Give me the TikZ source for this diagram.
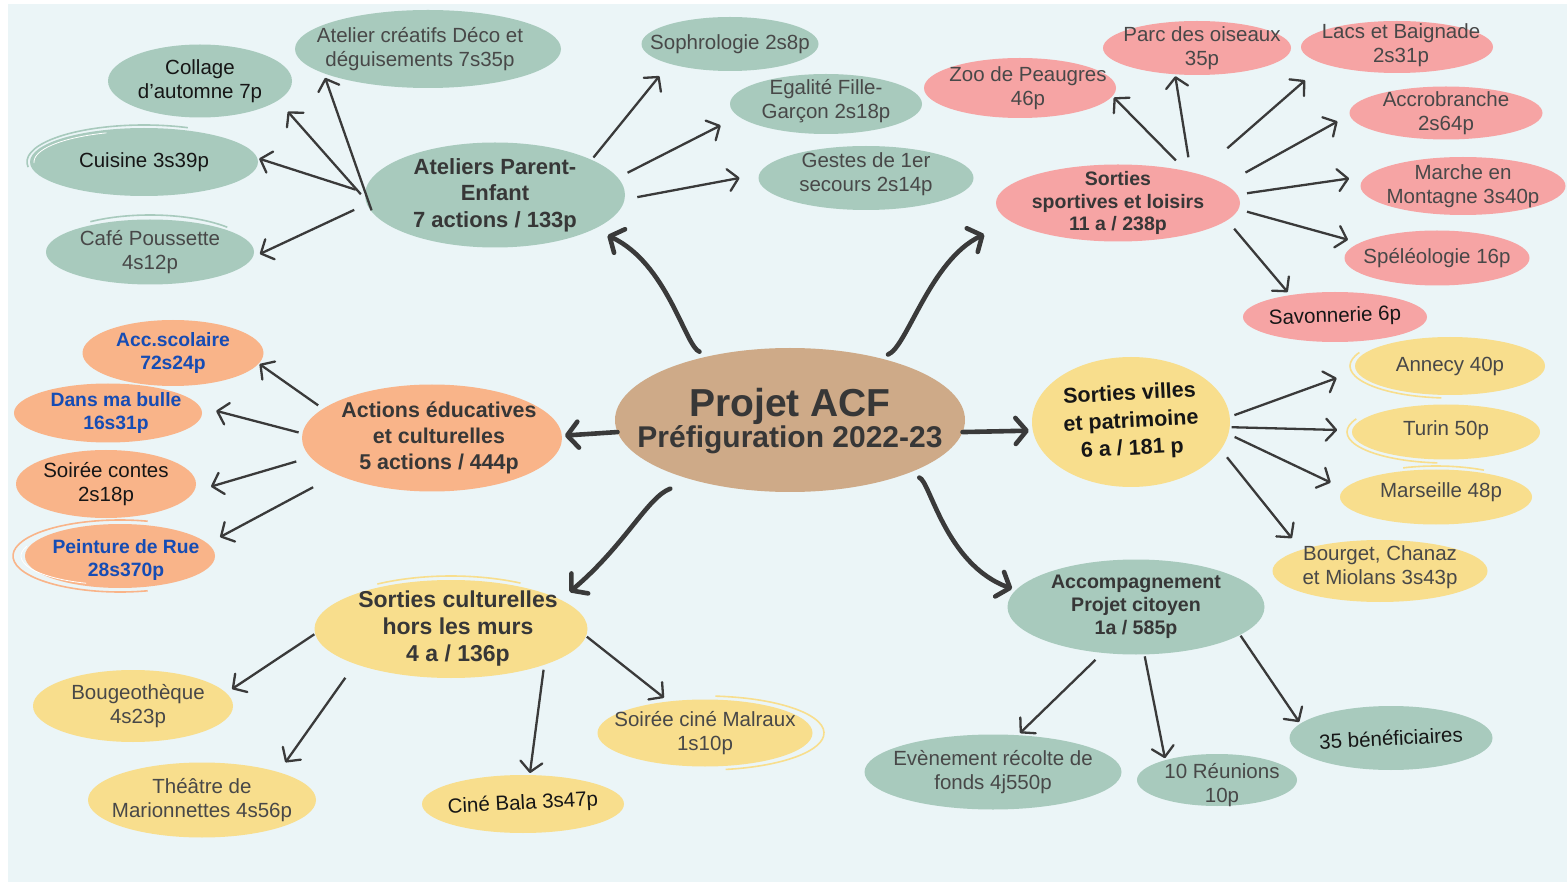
\documentclass[tikz,border=0pt]{standalone}
\usepackage{fontspec}
\setmainfont{Liberation Sans}
\usetikzlibrary{shapes.geometric,arrows.meta,calc}

\definecolor{cfond}{RGB}{235,245,247}
\definecolor{cvert}{RGB}{168,202,189}
\definecolor{crose}{RGB}{246,164,164}
\definecolor{corange}{RGB}{249,180,137}
\definecolor{cjaune}{RGB}{248,222,141}
\definecolor{cbrun}{RGB}{206,170,136}
\definecolor{ctexte}{RGB}{72,72,72}
\definecolor{ctitre}{RGB}{55,55,55}
\definecolor{cnoir}{RGB}{22,22,22}
\definecolor{cbleu}{RGB}{22,76,180}
\definecolor{cfleche}{RGB}{58,58,58}

\begin{document}
\begin{tikzpicture}[x=1pt, y=-1pt,
  every node/.style={inner sep=0pt, outer sep=0pt},
  bulle/.style={ellipse},
  txt/.style={align=center, text=ctexte, font=\fontsize{20.5}{23.5}\selectfont},
  noir/.style={txt, text=cnoir},
  bleu/.style={align=center, text=cbleu, font=\bfseries\fontsize{19.3}{23}\selectfont},
  titre/.style={align=center, text=ctitre},
  fl/.style={draw=cfleche, line width=2.3pt, -{Straight Barb[length=10pt,width=22pt,round]}},
  grosfl/.style={draw=cfleche, line width=4.6pt, line cap=round, -{Straight Barb[length=11pt,width=26pt,round]}}]

\useasboundingbox (0,0) rectangle (1567,882);
\fill[white] (0,0) rectangle (1567,882);
\fill[cfond] (8,4) rectangle (1567,882);

% centre
\node[bulle, fill=cbrun, minimum width=350pt, minimum height=144pt, label={[titre, yshift=-1pt, font=\bfseries]center:{\fontsize{39}{40}\selectfont Projet ACF\\\fontsize{30}{39}\selectfont Préfiguration 2022-23}}] (acf) at (790,420) {};

% ateliers parent-enfant
\node[bulle, fill=cvert, minimum width=260pt, minimum height=105pt, label={[titre, font=\bfseries\fontsize{22}{26.5}\selectfont]center:{Ateliers Parent-\\Enfant\\7 actions / 133p}}] (apf) at (495,195) {};
\node[bulle, fill=cvert, minimum width=266pt, minimum height=78pt, label={[txt, xshift=-8pt]center:{Atelier créatifs Déco et\\déguisements 7s35p}}] (creatifs) at (428,49) {};
\node[bulle, fill=cvert, minimum width=184pt, minimum height=73pt, label={[noir]center:{Collage\\d’automne 7p}}] (collage) at (200,81) {};
\node[bulle, fill=cvert, minimum width=228pt, minimum height=68pt, label={[noir]center:{Cuisine 3s39p}}] (cuisine) at (144,162) {};
\node[bulle, fill=cvert, minimum width=208pt, minimum height=65pt, label={[txt]center:{Café Poussette\\4s12p}}] (cafe) at (150,252) {};
\node[bulle, fill=cvert, minimum width=177pt, minimum height=54pt, label={[txt]center:{Sophrologie 2s8p}}] (sophro) at (730,44) {};
\node[bulle, fill=cvert, minimum width=192pt, minimum height=60pt, label={[txt, yshift=3pt]center:{Egalité Fille-\\Garçon 2s18p}}] (egalite) at (826,104) {};
\node[bulle, fill=cvert, minimum width=215pt, minimum height=64pt, label={[txt, yshift=4pt]center:{Gestes de 1er\\secours 2s14p}}] (gestes) at (866,178) {};

% sorties sportives
\node[bulle, fill=crose, minimum width=244pt, minimum height=77pt, label={[titre, font=\bfseries\fontsize{19.5}{22.5}\selectfont]center:{Sorties\\sportives et loisirs\\11 a / 238p}}] (sps) at (1118,203) {};
\node[bulle, fill=crose, minimum width=192pt, minimum height=60pt, label={[txt, xshift=8pt]center:{Zoo de Peaugres\\46p}}] (zoo) at (1020,88) {};
\node[bulle, fill=crose, minimum width=188pt, minimum height=54pt, label={[txt, xshift=5pt]center:{Parc des oiseaux\\35p}}] (parc) at (1197,48) {};
\node[bulle, fill=crose, minimum width=192pt, minimum height=52pt, label={[txt, xshift=4pt, yshift=2pt]center:{Lacs et Baignade\\2s31p}}] (lacs) at (1397,47) {};
\node[bulle, fill=crose, minimum width=193pt, minimum height=53pt, label={[txt]center:{Accrobranche\\2s64p}}] (accro) at (1446,113) {};
\node[bulle, fill=crose, minimum width=205pt, minimum height=58pt, label={[txt]center:{Marche en\\Montagne 3s40p}}] (marche) at (1463,186) {};
\node[bulle, fill=crose, minimum width=185pt, minimum height=55pt, label={[txt]center:{Spéléologie 16p}}] (speleo) at (1437,258) {};
\node[bulle, fill=crose, minimum width=184pt, minimum height=50pt, label={[noir, rotate=2]center:{Savonnerie 6p}}] (savon) at (1335,317) {};

% sorties villes
\node[bulle, fill=cjaune, minimum width=198pt, minimum height=130pt, label={[titre, text=cnoir, rotate=3, font=\bfseries\fontsize{21.5}{27.5}\selectfont]center:{Sorties villes\\et patrimoine\\6 a / 181 p}}] (svp) at (1131,422) {};
\node[bulle, fill=cjaune, minimum width=190pt, minimum height=58pt, label={[txt]center:{Annecy 40p}}] (annecy) at (1450,366) {};
\node[bulle, fill=cjaune, minimum width=188pt, minimum height=55pt, label={[txt, yshift=2pt]center:{Turin 50p}}] (turin) at (1446,432) {};
\node[bulle, fill=cjaune, minimum width=192pt, minimum height=55pt, label={[txt, xshift=5pt, yshift=5pt]center:{Marseille 48p}}] (marseille) at (1436,497) {};
\node[bulle, fill=cjaune, minimum width=215pt, minimum height=62pt, label={[txt, yshift=4pt]center:{Bourget, Chanaz\\et Miolans 3s43p}}] (bourget) at (1380,571) {};

% accompagnement
\node[bulle, fill=cvert, minimum width=257pt, minimum height=95pt, label={[titre, font=\bfseries\fontsize{19.6}{23}\selectfont]center:{Accompagnement\\Projet citoyen\\1a / 585p}}] (apc) at (1136,607) {};
\node[bulle, fill=cvert, minimum width=257pt, minimum height=75pt, label={[txt]center:{Evènement récolte de\\fonds 4j550p}}] (evenement) at (993,772) {};
\node[bulle, fill=cvert, minimum width=160pt, minimum height=52pt, label={[txt, xshift=5pt, yshift=-5pt]center:{10 Réunions\\10p}}] (reunions) at (1217,780) {};
\node[bulle, fill=cvert, minimum width=203pt, minimum height=64pt, label={[noir, rotate=3]center:{35 bénéficiaires}}] (benef) at (1391,738) {};

% sorties culturelles
\node[bulle, fill=cjaune, minimum width=273pt, minimum height=98pt, label={[titre, xshift=7pt, font=\bfseries\fontsize{23}{27}\selectfont]center:{Sorties culturelles\\hors les murs\\4 a / 136p}}] (scm) at (451,629) {};
\node[bulle, fill=cjaune, minimum width=200pt, minimum height=72pt, label={[txt, xshift=5pt]center:{Bougeothèque\\4s23p}}] (bougeo) at (133,706) {};
\node[bulle, fill=cjaune, minimum width=228pt, minimum height=75pt, label={[txt]center:{Théâtre de\\Marionnettes 4s56p}}] (theatre) at (202,800) {};
\node[bulle, fill=cjaune, minimum width=202pt, minimum height=58pt, label={[noir, rotate=3]center:{Ciné Bala 3s47p}}] (cine) at (523,804) {};
\node[bulle, fill=cjaune, minimum width=215pt, minimum height=67pt, label={[txt]center:{Soirée ciné Malraux\\1s10p}}] (malraux) at (705,733) {};

% actions educatives
\node[bulle, fill=corange, minimum width=260pt, minimum height=107pt, label={[titre, xshift=7pt, font=\bfseries\fontsize{21.4}{26}\selectfont]center:{Actions éducatives\\et culturelles\\5 actions / 444p}}] (aec) at (432,438) {};
\node[bulle, fill=corange, minimum width=181pt, minimum height=66pt, label={[bleu]center:{Acc.scolaire\\72s24p}}] (acc) at (173,353) {};
\node[bulle, fill=corange, minimum width=188pt, minimum height=59pt, label={[bleu, xshift=8pt]center:{Dans ma bulle\\16s31p}}] (bulle) at (108,413) {};
\node[bulle, fill=corange, minimum width=180pt, minimum height=68pt, label={[noir]center:{Soirée contes\\2s18p}}] (contes) at (106,484) {};
\node[bulle, fill=corange, minimum width=190pt, minimum height=64pt, label={[bleu, xshift=6pt, yshift=-4pt]center:{Peinture de Rue\\28s370p}}] (peinture) at (120,556) {};

% traits d'esquisse
\draw[cvert, line width=1.6pt] ($(cuisine)+(172:117 and 37)$) arc[start angle=172, end angle=292, x radius=117, y radius=37];
\draw[white, line width=.8pt] ($(cuisine)+(178:110 and 31)$) arc[start angle=178, end angle=250, x radius=110, y radius=31];
\draw[cvert, line width=1.6pt] ($(cafe)+(235:104 and 37)$) arc[start angle=235, end angle=318, x radius=104, y radius=37];
\draw[corange, line width=1.6pt] ($(peinture)+(75:107 and 36)$) arc[start angle=75, end angle=285, x radius=107, y radius=36];
\draw[white, line width=.8pt] ($(peinture)+(110:99 and 29)$) arc[start angle=110, end angle=200, x radius=99, y radius=29];
\draw[cjaune, line width=1.6pt] ($(annecy)+(95:100 and 32)$) arc[start angle=95, end angle=205, x radius=100, y radius=32];
\draw[cjaune, line width=1.6pt] ($(turin)+(95:99 and 31)$) arc[start angle=95, end angle=205, x radius=99, y radius=31];
\draw[cjaune, line width=1.6pt] ($(marseille)+(250:96 and 31)$) arc[start angle=250, end angle=300, x radius=96, y radius=31];
\draw[cjaune, line width=1.6pt] ($(scm)+(238:139 and 53)$) arc[start angle=238, end angle=300, x radius=139, y radius=53];
\draw[cjaune, line width=1.6pt] ($(malraux)+(-85:119 and 37)$) arc[start angle=-85, end angle=80, x radius=119, y radius=37];

% grosses fleches
\draw[grosfl, shorten <=12pt, shorten >=15pt] (acf.141) to[out=160, in=-25, out looseness=.4, in looseness=1.2] (apf.-19);
\draw[grosfl, shorten <=10pt, shorten >=30pt] (acf.35) to[out=20, in=205, out looseness=.4, in looseness=1.2] (sps.190);
\draw[grosfl, shorten >=3pt] (acf.184) -- (aec.1);
\draw[grosfl, shorten >=4pt] (acf.-4) -- (svp.185);
\draw[grosfl, shorten <=25pt, shorten >=12pt] (acf.212) to[out=200, in=40, out looseness=.7, in looseness=1.2] (scm.15);
\draw[grosfl, shorten <=14pt, shorten >=4pt] (acf.-25) to[out=-15, in=160, out looseness=.4, in looseness=1.2] (apc.172);

% fleches fines
\draw[fl, shorten <=2pt, shorten >=5pt] (apf.188) -- (creatifs.193);
\draw[fl, shorten <=7pt, shorten >=15pt] (apf.182) -- (collage.-14);
\draw[fl, shorten <=10pt, shorten >=2pt] (apf.179) -- (cuisine.2);
\draw[fl, shorten <=14pt, shorten >=8pt] (apf.184) -- (cafe.-3);
\draw[fl, shorten <=3pt, shorten >=16pt] (apf.20) -- (sophro.198);
\draw[fl, shorten <=11pt, shorten >=20pt] (apf.8) -- (egalite.188);
\draw[fl, shorten <=13pt, shorten >=20pt] (apf.-2) -- (gestes.178);

\draw[fl, shorten <=15pt, shorten >=2pt] (sps.25) -- (zoo.-5);
\draw[fl, shorten <=15pt, shorten >=2pt] (sps.23) -- (parc.230);
\draw[fl, shorten <=39pt, shorten >=25pt] (sps.20) -- (lacs.193);
\draw[fl, shorten <=24pt, shorten >=14pt] (sps.10) -- (accro.181);
\draw[fl, shorten <=10pt, shorten >=18pt] (sps.4) -- (marche.174);
\draw[fl, shorten <=9pt, shorten >=12pt] (sps.-3) -- (speleo.169);
\draw[fl, shorten <=11pt, shorten >=4pt] (sps.-9) -- (savon.154);

\draw[fl, shorten <=5pt, shorten >=21pt] (svp.3) -- (annecy.183);
\draw[fl, shorten <=2pt, shorten >=15pt] (svp.-3) -- (turin.179);
\draw[fl, shorten <=7pt, shorten >=15pt] (svp.-7) -- (marseille.175);
\draw[fl, shorten <=10pt, shorten >=15pt] (svp.-17) -- (bourget.165);

\draw[fl, shorten <=10pt, shorten >=3pt] (apc.234) -- (evenement.56);
\draw[fl, shorten <=2pt, shorten >=2pt] (apc.-80) -- (reunions.159);
\draw[fl, shorten <=1pt, shorten >=2pt] (apc.-15) -- (benef.171);

\draw[fl, shorten <=1pt, shorten >=7pt] (scm.182) -- (bougeo.8);
\draw[fl, shorten <=17pt, shorten >=12pt] (scm.200) -- (theatre.20);
\draw[fl, shorten <=5pt, shorten >=2pt] (scm.-21) -- (cine.77);
\draw[fl, shorten <=1pt, shorten >=6pt] (scm.-3) -- (malraux.139);

\draw[fl, shorten <=6pt, shorten >=1pt] (aec.165) -- (acc.-7);
\draw[fl, shorten <=4pt, shorten >=17pt] (aec.178) -- (bulle.4);
\draw[fl, shorten <=15pt, shorten >=18pt] (aec.189) -- (contes.-5);
\draw[fl, shorten <=27pt, shorten >=14pt] (aec.201) -- (peinture.8);
\end{tikzpicture}
\end{document}
